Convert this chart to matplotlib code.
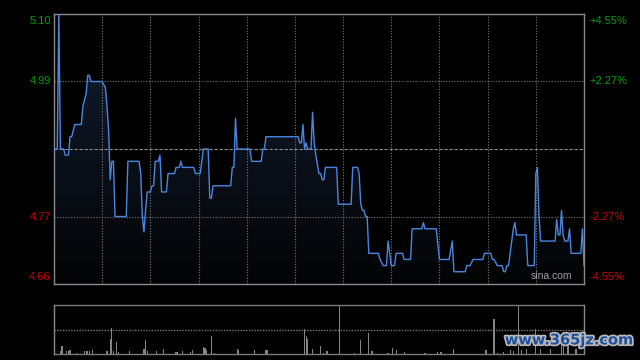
"""
Intraday price chart (HK session, 330 minutes) with volume panel, sina style.
"""

import numpy as np
import matplotlib.pyplot as plt
from matplotlib import patheffects

# price axis
prev_close = 4.88
price_low, price_high = 4.66, 5.10
left_labels = ['5.10', '4.99', '4.77', '4.66']
left_values = [5.10, 4.99, 4.77, 4.66]
right_labels = ['+4.55%', '+2.27%', '-2.27%', '-4.55%']

# price line vertices (minute of session, price)
minutes = [0, 2, 3, 4, 6, 7, 9, 10, 11, 13, 17, 18, 20, 21, 22, 23, 30, 31,
           32, 33, 34, 35, 36, 37, 38, 45, 46, 53, 54, 55, 56, 57, 58, 60,
           61, 62, 63, 65, 66, 67, 70, 71, 75, 76, 78, 79, 80, 87, 88, 91,
           93, 96, 97, 98, 99, 110, 111, 112, 113, 114, 122, 123, 129, 130,
           131, 132, 152, 153, 154, 155, 156, 157, 158, 160, 161, 162, 163,
           165, 166, 167, 168, 169, 176, 177, 185, 186, 189, 190, 191, 192,
           193, 194, 195, 196, 202, 203, 205, 207, 208, 210, 212, 213, 217,
           218, 222, 223, 229, 230, 231, 238, 240, 246, 248, 249, 256, 257,
           259, 261, 267, 268, 272, 273, 274, 276, 279, 280, 281, 282, 283,
           284, 286, 287, 288, 294, 295, 299, 300, 301, 302, 303, 312, 313,
           314, 315, 316, 317, 318, 320, 321, 322, 328, 329, 330]
prices = [4.88, 4.88, 5.10, 4.88, 4.88, 4.87, 4.87, 4.90, 4.90, 4.92, 4.92,
          4.95, 4.97, 5.00, 5.00, 4.99, 4.99, 4.985, 4.98, 4.95, 4.91, 4.83,
          4.86, 4.86, 4.77, 4.77, 4.86, 4.86, 4.84, 4.77, 4.745, 4.78, 4.81,
          4.81, 4.82, 4.82, 4.86, 4.86, 4.87, 4.81, 4.81, 4.84, 4.84, 4.85,
          4.85, 4.86, 4.85, 4.85, 4.84, 4.84, 4.88, 4.88, 4.80, 4.80, 4.82,
          4.82, 4.85, 4.85, 4.93, 4.88, 4.88, 4.86, 4.86, 4.88, 4.88, 4.90,
          4.90, 4.89, 4.89, 4.92, 4.88, 4.89, 4.88, 4.88, 4.94, 4.89, 4.87,
          4.84, 4.84, 4.83, 4.83, 4.85, 4.85, 4.79, 4.79, 4.85, 4.85, 4.84,
          4.79, 4.78, 4.78, 4.77, 4.77, 4.71, 4.71, 4.70, 4.69, 4.69, 4.73,
          4.69, 4.69, 4.71, 4.71, 4.70, 4.70, 4.75, 4.75, 4.76, 4.75, 4.75,
          4.70, 4.70, 4.73, 4.68, 4.68, 4.69, 4.69, 4.70, 4.70, 4.71, 4.71,
          4.70, 4.70, 4.69, 4.69, 4.68, 4.68, 4.69, 4.69, 4.71, 4.75, 4.76,
          4.74, 4.74, 4.69, 4.69, 4.84, 4.85, 4.77, 4.73, 4.73, 4.765, 4.74,
          4.74, 4.78, 4.74, 4.73, 4.73, 4.75, 4.71, 4.71, 4.75, 4.69]

# volume (relative to the day's largest minute)
vol_minutes = [4, 5, 8, 9, 10, 14, 19, 20, 21, 22, 24, 33, 35, 36, 37, 39, 40,
               47, 56, 57, 58, 64, 68, 76, 77, 80, 85, 86, 93, 94, 95, 98, 100,
               114, 115, 125, 132, 133, 156, 157, 158, 161, 166, 168, 170, 178,
               187, 191, 196, 198, 208, 211, 213, 218, 231, 239, 241, 249, 269,
               274, 276, 280, 284, 286, 289, 291, 294, 300, 303, 309, 316, 317,
               320, 325]
vol_values = [0.07, 0.17, 0.07, 0.07, 0.08, 0.03, 0.07, 0.07, 0.07, 0.07, 0.08,
              0.07, 0.31, 0.54, 0.07, 0.25, 0.04, 0.07, 0.10, 0.29, 0.07, 0.07,
              0.10, 0.05, 0.05, 0.07, 0.05, 0.08, 0.15, 0.13, 0.08, 0.37, 0.03,
              0.10, 0.08, 0.08, 0.08, 0.08, 0.51, 0.37, 0.31, 0.10, 0.17, 0.03,
              0.07, 1.00, 0.03, 0.29, 0.43, 0.07, 0.03, 0.13, 0.08, 0.05, 0.03,
              0.05, 0.05, 0.10, 0.08, 0.71, 0.03, 0.05, 0.08, 0.07, 1.00, 0.08,
              0.10, 0.52, 0.10, 0.10, 0.40, 0.45, 0.22, 0.10]

GRID = '#7a7a7a'
BORDER = '#8a8a8a'
GREEN = '#00a000'
RED = '#cc0000'
LINE = '#4a86e0'

plt.rcParams['font.family'] = ['Liberation Sans', 'DejaVu Sans']

fig = plt.figure(figsize=(6.4, 3.6), dpi=100, facecolor='black')
ax = fig.add_axes([54 / 640, 76 / 360, 530 / 640, 270 / 360], facecolor='black')
axv = fig.add_axes([54 / 640, 5.7 / 360, 530 / 640, 49.6 / 360], facecolor='black')

# gradient fill under the price line
x = np.array(minutes, dtype=float)
y = np.array(prices)
poly = ax.fill_between(x, y, price_low, color='none', lw=0)
grad = np.linspace(0, 1, 256).reshape(-1, 1)
top_c = np.array([0.075, 0.12, 0.2])
bot_c = np.array([0.01, 0.015, 0.02])
img = top_c * (1 - grad)[..., None] + bot_c * grad[..., None]
im = ax.imshow(img, extent=[0, 330, price_low, price_high], origin='upper',
               aspect='auto', zorder=1)
path = poly.get_paths()[0]
im.set_clip_path(path, transform=ax.transData)

ax.plot(x, y, color=LINE, lw=1.0, zorder=3, solid_joinstyle='round')

# grid lines
for t in range(30, 330, 30):
    ax.axvline(t, color=GRID, lw=0.8, ls=(0, (1, 1.5)), zorder=2)
for v in (4.99, 4.77):
    ax.axhline(v, color=GRID, lw=0.8, ls=(0, (1, 1.5)), zorder=2)
ax.axhline(prev_close, color='#8c8c8c', lw=0.8, ls=(0, (3, 1.5)), zorder=2)

ax.set_xlim(0, 330)
ax.set_ylim(price_low, price_high)
ax.set_xticks([])
ax.set_yticks([])
for s in ax.spines.values():
    s.set_color(BORDER)
    s.set_linewidth(1.0)

# price / percent labels
vas = ['top', 'center', 'center', 'bottom']
for lab, val, rlab, va in zip(left_labels, left_values, right_labels, vas):
    col = GREEN if val > prev_close else RED
    off = {'top': -0.003, 'center': 0, 'bottom': 0.004}[va]
    ax.text(-0.006, val + off, lab, transform=ax.get_yaxis_transform(),
            ha='right', va=va, color=col, fontsize=8)
    ax.text(1.011, val + off, rlab, transform=ax.get_yaxis_transform(),
            ha='left', va=va, color=col, fontsize=8)

ax.text(0.978, 0.012, 'sina.com', transform=ax.transAxes, ha='right',
        va='bottom', color='#a0a0a0', fontsize=7.5)

# volume panel
axv.bar(vol_minutes, vol_values, width=0.7, color='#858585', zorder=2)
axv.axhline(0.5, color=GRID, lw=1.0, ls=(0, (1, 1)), zorder=1)
axv.set_xlim(0, 330)
axv.set_ylim(0, 1.0)
axv.set_xticks([])
axv.set_yticks([])
for side in ('left', 'right'):
    axv.spines[side].set_color(BORDER)
    axv.spines[side].set_linewidth(1.0)
for side in ('top', 'bottom'):
    axv.spines[side].set_color(GRID)
    axv.spines[side].set_linewidth(1.0)
    axv.spines[side].set_linestyle((0, (1, 1)))

# site watermark
fig.text(0.99, 0.035, 'www.365jz.com', ha='right', va='bottom',
         color='#1f4f9c', fontsize=10.5, fontweight='bold',
         family=['DejaVu Sans'],
         path_effects=[patheffects.withStroke(linewidth=2.5, foreground='#b8b8b8')])

plt.savefig('out.png', dpi=100, facecolor='black')
